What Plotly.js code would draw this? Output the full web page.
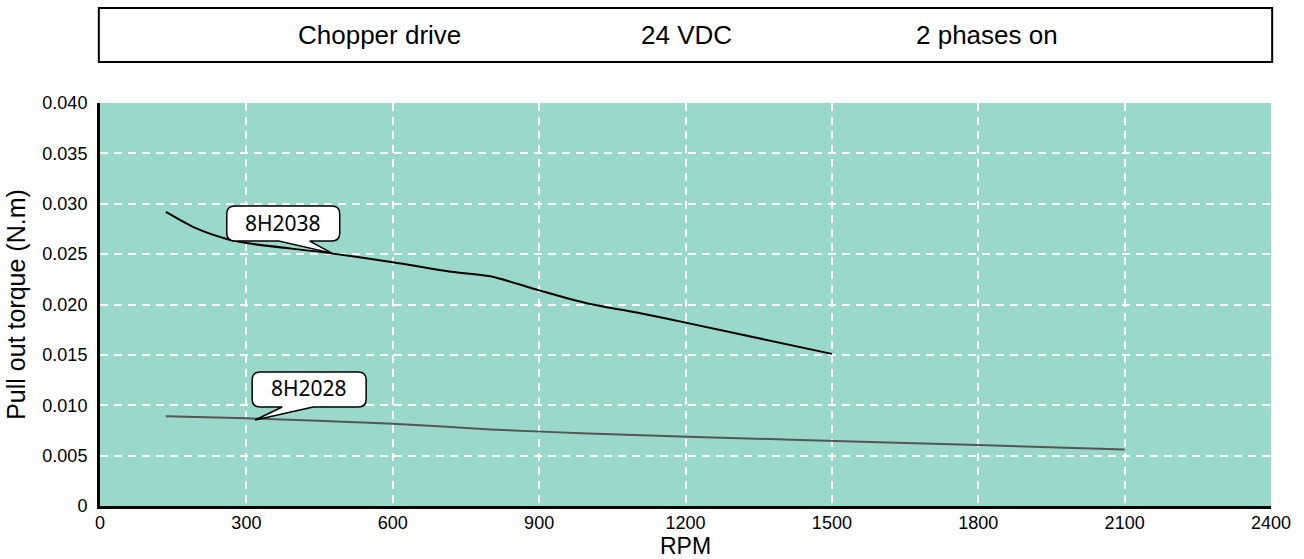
<!DOCTYPE html>
<html>
<head>
<meta charset="utf-8">
<script src="https://cdn.plot.ly/plotly-3.0.1.min.js"></script>
<style>html,body{margin:0;padding:0;background:#fff;}#chart{width:1304px;height:559px;}</style>
</head>
<body>
<div id="chart"></div>
<script>
// ---- data ----
var rpm2038 = [135, 200, 260, 300, 470, 600, 720, 800, 900, 1000, 1100, 1200, 1500];
var torque2038 = [0.0292, 0.0275, 0.0265, 0.0261, 0.0251, 0.0242, 0.02325, 0.0228, 0.0214, 0.0201, 0.0192, 0.0182, 0.0151];
var rpm2028 = [135, 300, 590, 800, 1000, 1435, 1800, 2100];
var torque2028 = [0.0089, 0.0087, 0.0082, 0.0076, 0.0072, 0.00655, 0.00605, 0.0056];
var seriesNames = ['8H2038', '8H2028'];
var labelRpm = [475, 318];
var labelTorque = [0.0251, 0.00854];
var headerTexts = ['Chopper drive', '24 VDC', '2 phases on'];
var xTickVals = [0, 300, 600, 900, 1200, 1500, 1800, 2100, 2400];
var yTickVals = [0, 0.005, 0.010, 0.015, 0.020, 0.025, 0.030, 0.035, 0.040];
var yTickText = ['0', '0.005', '0.010', '0.015', '0.020', '0.025', '0.030', '0.035', '0.040'];
var xTitle = 'RPM';
var yTitle = 'Pull out torque (N.m)';

// ---- styling ----
var bubbles = [
  {L: -105, R: 8, T: -47, B: -12, tL: -53, tR: -22},
  {L: -3, R: 111, T: -48, B: -13, tL: 27, tR: 58}
];
function bubblePath(b, r) {
  function p(x, y) { return x + ',' + (-y); }
  return 'M' + p(b.L + r, b.T) +
    ' L' + p(b.R - r, b.T) +
    ' Q' + p(b.R, b.T) + ' ' + p(b.R, b.T + r) +
    ' L' + p(b.R, b.B - r) +
    ' Q' + p(b.R, b.B) + ' ' + p(b.R - r, b.B) +
    ' L' + p(b.tR, b.B) +
    ' L' + p(0, 0) +
    ' L' + p(b.tL, b.B) +
    ' L' + p(b.L + r, b.B) +
    ' Q' + p(b.L, b.B) + ' ' + p(b.L, b.B - r) +
    ' L' + p(b.L, b.T + r) +
    ' Q' + p(b.L, b.T) + ' ' + p(b.L + r, b.T) + ' Z';
}

var traces = [
  {x: rpm2038, y: torque2038, name: seriesNames[0], type: 'scatter', mode: 'lines',
   line: {color: '#000000', width: 2, shape: 'spline', smoothing: 0.8}, hoverinfo: 'x+y'},
  {x: rpm2028, y: torque2028, name: seriesNames[1], type: 'scatter', mode: 'lines',
   line: {color: '#555555', width: 2, shape: 'spline', smoothing: 0.6}, hoverinfo: 'x+y'}
];

var shapes = [
  {type: 'rect', xref: 'paper', yref: 'paper', x0: -0.001, x1: 1.001, y0: 1.1017, y1: 1.2357,
   line: {color: '#000', width: 2}, fillcolor: 'rgba(0,0,0,0)'}
];
var annotations = [];
var headerX = [0.2391, 0.501, 0.7572];
headerTexts.forEach(function (t, i) {
  annotations.push({xref: 'paper', yref: 'paper', x: headerX[i], y: 1.1687, text: t, showarrow: false,
    xanchor: 'center', yanchor: 'middle', font: {family: 'Liberation Sans, Arial', size: 26, color: '#000'}});
});
seriesNames.forEach(function (n, i) {
  var b = bubbles[i];
  shapes.push({type: 'path', xref: 'x', yref: 'y', xsizemode: 'pixel', ysizemode: 'pixel',
    xanchor: labelRpm[i], yanchor: labelTorque[i], path: bubblePath(b, 8),
    fillcolor: '#ffffff', line: {color: '#000', width: 1.5}, layer: 'above'});
  annotations.push({xref: 'x', yref: 'y', x: labelRpm[i], y: labelTorque[i], text: n, showarrow: false,
    xanchor: 'center', yanchor: 'middle', xshift: (b.L + b.R) / 2, yshift: -(b.T + b.B) / 2 + 1,
    font: {family: 'Noto Sans', size: 21, color: '#000'}});
});

var layout = {
  width: 1304, height: 559,
  margin: {l: 100, r: 33, t: 103, b: 53, pad: 0},
  paper_bgcolor: '#ffffff', plot_bgcolor: '#99d8ca',
  showlegend: false,
  font: {family: 'Liberation Sans, Arial', color: '#000'},
  xaxis: {range: [0, 2400], tickvals: xTickVals, showgrid: true, gridcolor: '#ffffff', gridwidth: 2, griddash: '8px,6px',
    zeroline: false, showline: true, linecolor: '#000', linewidth: 3, ticks: '', ticklabelstandoff: -2,
    tickfont: {size: 18, family: 'Liberation Sans, Arial', color: '#000'},
    title: {text: xTitle, font: {size: 23, family: 'Liberation Sans, Arial', color: '#000'}, standoff: 17}},
  yaxis: {range: [0, 0.040], tickvals: yTickVals, ticktext: yTickText, showgrid: true, gridcolor: '#ffffff', gridwidth: 2, griddash: '8px,6px',
    zeroline: false, showline: true, linecolor: '#000', linewidth: 3, ticks: '', ticklabelstandoff: 6,
    tickfont: {size: 18, family: 'Liberation Sans, Arial', color: '#000'},
    title: {text: yTitle, font: {size: 25, family: 'Liberation Sans, Arial', color: '#000'}, standoff: 10}},
  shapes: shapes,
  annotations: annotations
};

Plotly.newPlot('chart', traces, layout, {displayModeBar: false, staticPlot: true});
</script>
</body>
</html>
